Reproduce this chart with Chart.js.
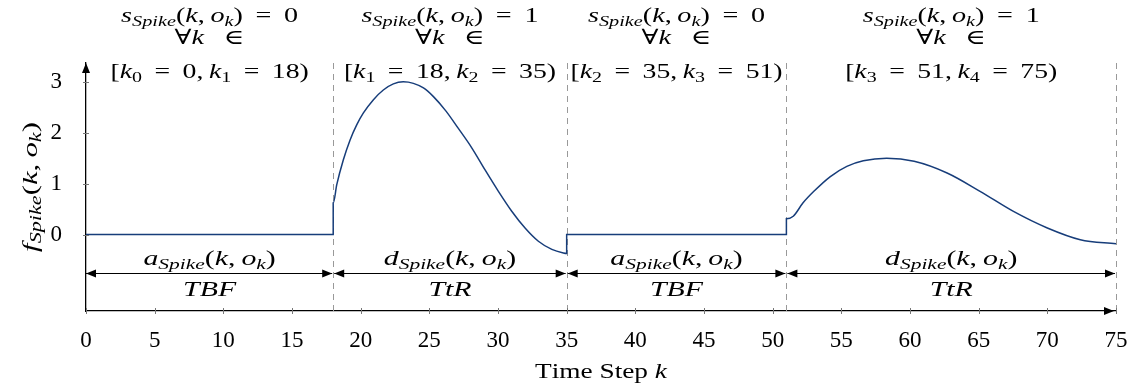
<!DOCTYPE html>
<html>
<head>
<meta charset="utf-8">
<script src="https://cdn.jsdelivr.net/npm/chart.js@4.4.1/dist/chart.umd.min.js"></script>
<style>
  html, body { margin: 0; padding: 0; background: #fff; }
</style>
</head>
<body>
<canvas id="myCanvas" width="1138" height="392"></canvas>
<script>
// curve
const kValues = [0, 18, 18, 18.26, 18.74, 19.23, 19.72, 20.2, 20.93, 21.65, 22.38, 23.1, 23.84, 24.57, 25.3, 26.2,
                 27.1, 28.1, 29.06, 30.03, 31.0, 31.97, 32.94, 33.92, 34.76, 35, 35,
                 51, 51, 51.5, 52.2, 53.0, 54.2, 55.4, 56.6, 58.3, 60.3, 62.7, 65.1, 67.5, 70.0, 72.4, 75];
const fValues = [0, 0, 0.62, 0.98, 1.47, 1.86, 2.16, 2.39, 2.65, 2.84, 2.96, 3.0, 2.97, 2.88, 2.71, 2.43,
                 2.09, 1.70, 1.27, 0.85, 0.46, 0.13, -0.13, -0.29, -0.36, -0.37, 0,
                 0, 0.31, 0.36, 0.62, 0.85, 1.14, 1.34, 1.45, 1.50, 1.44, 1.21, 0.85, 0.46, 0.13, -0.1, -0.18];
const xTicks = [0, 5, 10, 15, 20, 25, 30, 35, 40, 45, 50, 55, 60, 65, 70, 75];
const yTicks = [0, 1, 2, 3];
const phaseBounds = [0, 18, 35, 51, 75];
const phaseState = [0, 1, 0, 1];
const phaseFunc = ['a', 'd', 'a', 'd'];
const phaseName = ['TBF', 'TtR', 'TBF', 'TtR'];
const arrowLevel = -0.75;

const FONT = '"Liberation Serif", "DejaVu Serif", serif';

// "_{..}" = subscript, "#{..}" = upright text
function parseMath(str) {
    const runs = [];
    let i = 0;
    while (i < str.length) {
        if ((str[i] === '_' || str[i] === '#') && str[i + 1] === '{') {
            const end = str.indexOf('}', i);
            runs.push({ t: str.slice(i + 2, end), sub: str[i] === '_', rm: str[i] === '#' });
            i = end + 1;
        } else {
            let j = i;
            while (j < str.length && !((str[j] === '_' || str[j] === '#') && str[j + 1] === '{')) j++;
            runs.push({ t: str.slice(i, j), sub: false, rm: false });
            i = j;
        }
    }
    return runs;
}

// sx stretches the text sideways (Computer Modern is much wider than Times)
function drawMath(ctx, str, x, y, size, sx) {
    const pieces = [];
    for (const run of parseMath(str)) {
        const sz = run.sub ? size * 0.72 : size;
        const dy = run.sub ? size * 0.2 : 0;
        for (const ch of run.t) {
            const it = !run.rm && /[A-Za-z]/.test(ch);
            const font = (it ? 'italic ' : '') + sz + 'px ' + FONT;
            ctx.font = font;
            pieces.push({ ch, font, dy, w: ctx.measureText(ch).width });
        }
    }
    const total = pieces.reduce((s, p) => s + p.w, 0);
    ctx.save();
    ctx.translate(x - total * sx / 2, y);
    ctx.scale(sx, 1);
    ctx.textAlign = 'left';
    ctx.textBaseline = 'alphabetic';
    let cx = 0;
    for (const p of pieces) {
        ctx.font = p.font;
        ctx.fillText(p.ch, cx, p.dy);
        cx += p.w;
    }
    ctx.restore();
}

function arrowHead(ctx, x, y, dir) {
    const len = 10, half = 4;
    ctx.beginPath();
    if (dir === 'left') { ctx.moveTo(x, y); ctx.lineTo(x + len, y - half); ctx.lineTo(x + len, y + half); }
    if (dir === 'right') { ctx.moveTo(x, y); ctx.lineTo(x - len, y - half); ctx.lineTo(x - len, y + half); }
    if (dir === 'up') { ctx.moveTo(x, y); ctx.lineTo(x - half, y + len); ctx.lineTo(x + half, y + len); }
    ctx.closePath();
    ctx.fill();
}

const decorations = {
    id: 'decorations',
    beforeDatasetsDraw(chart) {
        const { ctx, chartArea, scales: { x } } = chart;
        ctx.save();
        ctx.strokeStyle = '#999';
        ctx.lineWidth = 1;
        ctx.setLineDash([6, 5]);
        phaseBounds.slice(1).forEach(b => {
            const px = Math.round(x.getPixelForValue(b)) + 0.5;
            ctx.beginPath();
            ctx.moveTo(px, chartArea.top);
            ctx.lineTo(px, chartArea.bottom + 4);
            ctx.stroke();
        });
        ctx.restore();
    },
    afterDraw(chart) {
        const { ctx, chartArea, scales: { x, y } } = chart;
        ctx.save();
        ctx.strokeStyle = '#777';
        ctx.lineWidth = 1;
        x.ticks.forEach(t => {
            const px = Math.round(x.getPixelForValue(t.value)) + 0.5;
            ctx.beginPath();
            ctx.moveTo(px, chartArea.bottom - 3);
            ctx.lineTo(px, chartArea.bottom + 3);
            ctx.stroke();
        });
        y.ticks.forEach(t => {
            const py = Math.round(y.getPixelForValue(t.value)) + 0.5;
            ctx.beginPath();
            ctx.moveTo(chartArea.left - 3, py);
            ctx.lineTo(chartArea.left + 3, py);
            ctx.stroke();
        });
        ctx.fillStyle = '#000';
        arrowHead(ctx, chartArea.left, chartArea.top, 'up');
        arrowHead(ctx, chartArea.right - 2, chartArea.bottom, 'right');

        const ay = Math.round(y.getPixelForValue(arrowLevel)) + 0.5;
        ctx.strokeStyle = '#000';
        ctx.lineWidth = 1.2;
        for (let i = 0; i < phaseState.length; i++) {
            const x0 = x.getPixelForValue(phaseBounds[i]) + (i > 0 ? 1 : 0);
            const x1 = x.getPixelForValue(phaseBounds[i + 1]) - 1;
            ctx.beginPath();
            ctx.moveTo(x0, ay);
            ctx.lineTo(x1, ay);
            ctx.stroke();
            arrowHead(ctx, x0, ay, 'left');
            arrowHead(ctx, x1, ay, 'right');
            const cx = (x.getPixelForValue(phaseBounds[i]) + x.getPixelForValue(phaseBounds[i + 1])) / 2;
            drawMath(ctx, phaseFunc[i] + '_{Spike}(k,\u2009o_{k})', cx, ay - 9, 21, 1.42);
            drawMath(ctx, phaseName[i], cx, ay + 22, 21, 1.42);

            const b0 = phaseBounds[i], b1 = phaseBounds[i + 1];
            drawMath(ctx, 's_{Spike}(k,\u2009o_{k}) \u2009= \u2009' + phaseState[i], cx, 22, 21, 1.34);
            drawMath(ctx, '\u2200k \u2009 \u2208', cx, 44, 21, 1.34);
            drawMath(ctx, '[k_{' + i + '} \u2009= \u2009' + b0 + ',\u2009k_{' + (i + 1) + '} \u2009= \u2009' + b1 + ')', cx, 78, 21, 1.32);
        }

        drawMath(ctx, '#{Time Step }k', (chartArea.left + chartArea.right) / 2, 378, 21, 1.3);
        ctx.translate(37, (chartArea.top + chartArea.bottom) / 2);
        ctx.rotate(-Math.PI / 2);
        drawMath(ctx, 'f_{Spike}(k,\u2009o_{k})', 0, 0, 22, 1.4);
        ctx.restore();
    }
};

const myCanvas = document.getElementById('myCanvas').getContext('2d');
window.myChart = new Chart(myCanvas, {
    type: 'line',
    data: {
        datasets: [{
            data: kValues.map((k, i) => ({ x: k, y: fValues[i] })),
            borderColor: '#173d7a',
            borderWidth: 1.5,
            pointRadius: 0,
            fill: false,
            cubicInterpolationMode: 'monotone'
        }]
    },
    options: {
        responsive: false,
        animation: false,
        devicePixelRatio: 1,
        layout: { padding: { top: 63, right: 22, left: 0, bottom: 0 } },
        plugins: { legend: { display: false }, tooltip: { enabled: false } },
        scales: {
            x: {
                type: 'linear',
                min: 0,
                max: 75,
                afterBuildTicks: s => { s.ticks = xTicks.map(v => ({ value: v })); },
                afterFit: s => { s.height = 81; },
                grid: { display: false },
                border: { display: true, color: '#000', width: 1.3 },
                ticks: { color: '#000', padding: 8, maxRotation: 0, font: { family: FONT, size: 23 } }
            },
            y: {
                type: 'linear',
                min: -1.5,
                max: 3.37,
                afterBuildTicks: s => { s.ticks = yTicks.map(v => ({ value: v })); },
                afterFit: s => { s.width = 86; },
                grid: { display: false },
                border: { display: true, color: '#000', width: 1.3 },
                ticks: { color: '#000', padding: 16, font: { family: FONT, size: 23 } }
            }
        }
    },
    plugins: [decorations]
});
</script>
</body>
</html>
